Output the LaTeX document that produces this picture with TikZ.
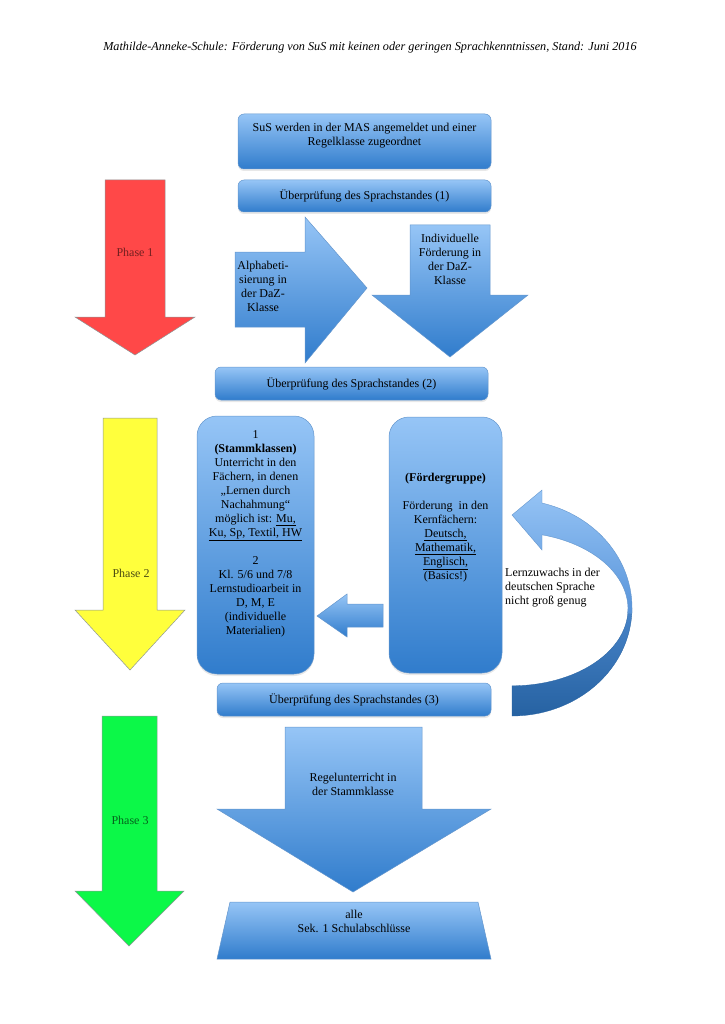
\documentclass[tikz,border=0pt]{standalone}
\usepackage{fontspec}
\setmainfont{Liberation Serif}
\usetikzlibrary{shadows}
\definecolor{boxtop}{RGB}{150,197,246}
\definecolor{boxbot}{RGB}{48,124,204}
\definecolor{boxline}{RGB}{100,150,205}
\definecolor{phred}{RGB}{255,72,72}
\definecolor{phyellow}{RGB}{255,255,60}
\definecolor{phgreen}{RGB}{12,248,72}
\definecolor{phline}{RGB}{140,150,150}
\definecolor{curvelight}{RGB}{150,196,245}
\definecolor{curvemid}{RGB}{88,148,218}
\definecolor{curvedark}{RGB}{38,98,162}
\begin{document}
\begin{tikzpicture}[x=1pt,y=-1pt,font=\fontsize{12}{14}\selectfont,
  bluebox/.style={draw=boxline,line width=0.5pt,rounded corners=6pt,top color=boxtop,bottom color=boxbot,inner sep=0pt,
    drop shadow={opacity=0.18,shadow xshift=0pt,shadow yshift=-2pt}},
  tallbox/.style={bluebox,rounded corners=20pt},
  bluearrow/.style={draw=boxline,line width=0.5pt,top color=boxtop,bottom color=boxbot},
  txt/.style={align=center,inner sep=0pt},
  phasearrow/.style={draw=phline,line width=0.5pt}]
\useasboundingbox (0,0) rectangle (724,1024);

% header
\node[font=\itshape\fontsize{12.2}{14}\selectfont] (hdr) at (370,48)
  {Mathilde-Anneke-Schule: Förderung von SuS mit keinen oder geringen Sprachkenntnissen, Stand: Juni 2016};

% phase arrows
\path[phasearrow,fill=phred] (105,180) -- (165,180) -- (165,317) -- (195,317) -- (135,355) -- (75,317) -- (105,317) -- cycle;
\node[text=phred!45!black] (p1) at (135,252) {Phase 1};
\path[phasearrow,fill=phyellow] (103,418) -- (157,418) -- (157,610) -- (185,610) -- (130,670) -- (75,610) -- (103,610) -- cycle;
\node[text=phyellow!30!black] (p2) at (131,573) {Phase 2};
\path[phasearrow,fill=phgreen] (102,716) -- (157,716) -- (157,891) -- (184,891) -- (129,946) -- (75,891) -- (102,891) -- cycle;
\node[text=phgreen!40!black] (p3) at (130,820) {Phase 3};

% top boxes
\node[bluebox,minimum width=253pt,minimum height=55pt] (reg) at (364.5,141.5) {};
\node[txt] (regt) at (364.5,135.5) {SuS werden in der MAS angemeldet und einer\\Regelklasse zugeordnet};
\node[bluebox,minimum width=253pt,minimum height=32pt] (ue1) at (364.5,196) {};
\node[txt] (ue1t) at (364.5,196) {Überprüfung des Sprachstandes (1)};

% phase 1 arrows
\path[bluearrow] (235,252) -- (305,252) -- (305,217) -- (367,288) -- (305,363) -- (305,327) -- (235,327) -- cycle;
\node[txt] (alph) at (263,286) {Alphabeti-\\sierung in\\der DaZ-\\Klasse};
\path[bluearrow] (410,225) -- (490,225) -- (490,295) -- (528,295) -- (450,357) -- (372,295) -- (410,295) -- cycle;
\node[txt] (indiv) at (450,259) {Individuelle\\Förderung in\\der DaZ-\\Klasse};

\node[bluebox,minimum width=273pt,minimum height=33pt] (ue2) at (351.5,383.5) {};
\node[txt] (ue2t) at (351.5,383.5) {Überprüfung des Sprachstandes (2)};

% phase 2
\node[tallbox,minimum width=117pt,minimum height=258pt] (stamm) at (255.5,545) {};
\node[txt] (stammt) at (255.5,533.5) {1\\\textbf{(Stammklassen)}\\Unterricht in den\\Fächern, in denen\\„Lernen durch\\Nachahmung“\\möglich ist: \underline{Mu,}\\\underline{Ku, Sp, Textil, HW}\\[14pt]2\\Kl. 5/6 und 7/8\\Lernstudioarbeit in\\D, M, E\\(individuelle\\Materialien)};
\node[tallbox,minimum width=113pt,minimum height=256pt] (foerd) at (445.5,545) {};
\node[txt] (foerdt) at (445.5,527.5) {\textbf{(Fördergruppe)}\\[14pt]Förderung\ \ in den\\Kernfächern:\\\underline{Deutsch,}\\\underline{Mathematik,}\\\underline{Englisch,}\\(Basics!)};
\path[bluearrow] (317,616) -- (347,594) -- (347,604) -- (383,604) -- (383,627) -- (347,627) -- (347,637) -- cycle;

% curved arrow
\path[top color=curvemid!70!curvedark,bottom color=curvedark,draw=curvedark,line width=0.3pt]
  plot[variable=\t,domain=0:90,samples=40] ({512+120*cos(\t)},{607.8+108.2*sin(\t)})
  -- plot[variable=\t,domain=90:0,samples=40] ({512+116*cos(\t)},{609+76.8*sin(\t)}) -- cycle;
\path[top color=curvelight,bottom color=curvemid,draw=boxline,line width=0.4pt]
  (512,515) -- (542,490) -- (542,503)
  -- plot[variable=\t,domain=-75.5:3,samples=40] ({512+120*cos(\t)},{607.8+108.2*sin(\t)})
  -- plot[variable=\t,domain=3:-75,samples=40] ({512+116*cos(\t)},{609+76.8*sin(\t)})
  -- (542,550) -- cycle;
\node[align=left,anchor=west,inner sep=0pt] (lern) at (505,588) {Lernzuwachs in der\\deutschen Sprache\\nicht groß genug};

\node[bluebox,minimum width=274pt,minimum height=33pt] (ue3) at (354,699.5) {};
\node[txt] (ue3t) at (354,699.5) {Überprüfung des Sprachstandes (3)};

% phase 3
\path[bluearrow] (285,727) -- (422,727) -- (422,809) -- (491,809) -- (353,892) -- (217,809) -- (285,809) -- cycle;
\node[txt] (regel) at (353,784) {Regelunterricht in\\der Stammklasse};
\path[bluearrow] (230,902) -- (478,902) -- (491,959) -- (217,959) -- cycle;
\node[txt] (alle) at (354,921) {alle\\Sek. 1 Schulabschlüsse};
\end{tikzpicture}
\end{document}
